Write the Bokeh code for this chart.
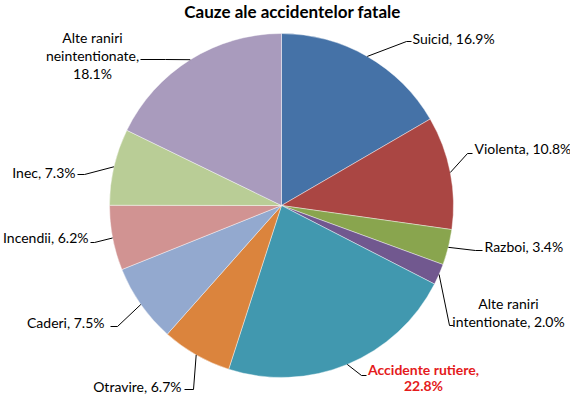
import numpy as np
from bokeh.plotting import figure
from bokeh.models import Range1d
from bokeh.embed import file_html
from bokeh.resources import INLINE
from bokeh.core.properties import value

# ---------------- data ----------------
chart_title = "Cauze ale accidentelor fatale"
categories = ["Suicid", "Violenta", "Razboi", "Alte raniri intentionate",
              "Accidente rutiere", "Otravire", "Caderi", "Incendii", "Inec",
              "Alte raniri neintentionate"]
percents = [16.9, 10.8, 3.4, 2.0, 22.8, 6.7, 7.5, 6.2, 7.3, 18.1]

# ---------------- styles / layout ----------------
colors = ["#4572A7", "#AA4643", "#89A54E", "#71588F", "#4198AF",
          "#DB843D", "#93A9CF", "#D19392", "#B9CD96", "#A99BBD"]
FONT = "Lato"
FS = "14px"
W, H = 570, 397
CX, CY_PIX, R = 281, 205, 172

def fy(y_pix):
    return H - y_pix

# label layout in pixels: elbow, end of leader, text x, align, line y's
label_layout = [
    dict(elbow=(406, 41), end=(411, 41), tx=412, align="left", ys=[38]),
    dict(elbow=(467, 153), end=(472, 153), tx=474, align="left", ys=[148]),
    dict(elbow=(475, 250), end=(482, 250), tx=484, align="left", ys=[246]),
    dict(elbow=(449, 325), end=(453, 325), tx=508, align="center", ys=[303, 321]),
    dict(elbow=(361, 375), end=(366, 375), tx=423, align="center", ys=[369, 385]),
    dict(elbow=(193, 389), end=(184, 389), tx=181, align="right", ys=[386]),
    dict(elbow=(117, 326), end=(110, 326), tx=104, align="right", ys=[322]),
    dict(elbow=(94, 242), end=(90, 242), tx=88, align="right", ys=[237]),
    dict(elbow=(84, 174), end=(77, 174), tx=75, align="right", ys=[172]),
    dict(elbow=(165, 59), end=(140, 59), tx=92, align="center", ys=[37, 55, 73]),
]
highlight = "Accidente rutiere"

# ---------------- figure ----------------
p = figure(width=W, height=H, x_range=Range1d(0, W), y_range=Range1d(0, H),
           output_backend="svg", toolbar_location=None, min_border=0,
           x_axis_type=None, y_axis_type=None)
p.grid.visible = False
p.outline_line_color = None
p.background_fill_color = "white"
p.border_fill_color = "white"

vals = np.array(percents, dtype=float)
frac = vals / vals.sum()
cum = np.concatenate([[0.0], np.cumsum(frac)])
start = np.pi / 2 - 2 * np.pi * cum[:-1]
end = np.pi / 2 - 2 * np.pi * cum[1:]
mid = (start + end) / 2
cy = fy(CY_PIX)

p.wedge(x=CX, y=cy, radius=R, start_angle=list(start), end_angle=list(end),
        direction="clock", fill_color=colors, line_color="white", line_width=0.7, line_alpha=0.6)

# leader lines
xs, ys = [], []
for m, lay in zip(mid, label_layout):
    sx, sy = CX + R * np.cos(m), cy + R * np.sin(m)
    xs.append([sx, lay["elbow"][0], lay["end"][0]])
    ys.append([sy, fy(lay["elbow"][1]), fy(lay["end"][1])])
p.multi_line(xs=xs, ys=ys, line_color="black", line_width=1)

# labels
for cat, v, lay in zip(categories, percents, label_layout):
    if cat == "Alte raniri intentionate":
        lines = ["Alte raniri", f"intentionate, {v:.1f}%"]
    elif cat == "Alte raniri neintentionate":
        lines = ["Alte raniri", "neintentionate,", f"{v:.1f}%"]
    elif cat == highlight:
        lines = [f"{cat},", f"{v:.1f}%"]
    else:
        lines = [f"{cat}, {v:.1f}%"]
    is_hl = cat == highlight
    for line, ly in zip(lines, lay["ys"]):
        p.text(x=[lay["tx"]], y=[fy(ly)], text=[line], text_font=value(FONT),
               text_font_size=FS, text_align=lay["align"], text_baseline="middle",
               text_color="#E41A1C" if is_hl else "#000000",
               text_font_style="bold" if is_hl else "normal")

# title
p.text(x=[292], y=[fy(11)], text=[chart_title], text_font=value(FONT),
       text_font_size="17px", text_font_style="bold", text_align="center",
       text_baseline="middle", text_color="#000000")

open("out.html", "w").write(file_html(p, INLINE))
